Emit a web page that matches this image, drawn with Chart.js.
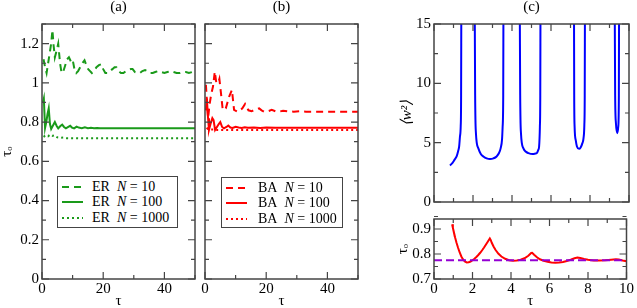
<!DOCTYPE html>
<html>
<head>
<meta charset="utf-8">
<script src="https://cdn.jsdelivr.net/npm/chart.js@4/dist/chart.umd.min.js"></script>
<style>
    body { margin: 0; background: #fff; }
    #stage { position: relative; width: 637px; height: 308px; overflow: hidden; }
    #stage canvas { position: absolute; left: 0; top: 0; }
    .legend {
        position: absolute; box-sizing: border-box; background: #fff;
        border: 1px solid #444; padding: 2px 0 0 4px;
        font-family: "Liberation Serif", "Times New Roman", serif; font-size: 14px; color: #000;
    }
    .legend .row { display: flex; align-items: center; height: 15.5px; white-space: nowrap; }
    .legend svg { flex: none; }
</style>
</head>
<body>
<div id="stage">
    <canvas id="chartA" width="637" height="308"></canvas>
    <canvas id="chartB" width="637" height="308"></canvas>
    <canvas id="chartC1" width="637" height="308"></canvas>
    <canvas id="chartC2" width="637" height="308"></canvas>
</div>
<script>
// Dados: pares [tau, valor]

// (a) redes ER
const er10 = [[0.5,1.12],[1,1.08],[1.5,1.05],[2,1.10],[2.5,1.15],[3,1.20],[3.4,1.27],[3.8,1.19],[4.2,1.13],[4.7,1.16],
    [5.3,1.20],[5.9,1.10],[6.4,1.05],[7,1.06],[7.6,1.09],[8.2,1.12],[8.8,1.13],[9.4,1.11],[10,1.12],[10.6,1.07],
    [11.2,1.05],[11.8,1.06],[12.5,1.08],[13.2,1.10],[13.9,1.115],[14.5,1.09],[15.1,1.07],[15.7,1.06],[16.3,1.05],[17,1.06],
    [17.8,1.08],[18.6,1.09],[19.4,1.095],[20,1.07],[20.7,1.05],[21.4,1.05],[22.2,1.06],[23,1.07],[23.7,1.08],[24.3,1.08],
    [25,1.06],[25.8,1.05],[26.6,1.05],[27.4,1.06],[28.2,1.065],[29,1.07],[29.6,1.07],[30.4,1.055],[31.2,1.05],[32,1.05],
    [32.8,1.06],[33.7,1.065],[34.5,1.06],[35.3,1.05],[36.2,1.05],[37,1.055],[38,1.06],[39,1.055],[40,1.05],[41,1.055],
    [42,1.06],[43,1.055],[44,1.05],[45,1.05],[46,1.055],[47,1.055],[48,1.05],[49,1.055],[50,1.055]];
const er100 = [[0.3,0.90],[0.6,0.92],[1.0,0.77],[1.4,0.80],[1.8,0.84],[2.2,0.87],[2.6,0.79],[3.0,0.765],[3.5,0.78],[4.2,0.80],
    [4.8,0.78],[5.3,0.768],[6,0.78],[6.6,0.787],[7.2,0.775],[7.8,0.768],[8.6,0.776],[9.2,0.781],[9.8,0.772],[10.5,0.768],
    [11.3,0.777],[12,0.772],[13,0.769],[14,0.773],[15,0.769],[16,0.771],[17,0.768],[18,0.77],[19,0.768],[20,0.769],
    [22,0.768],[24,0.769],[26,0.768],[28,0.768],[30,0.769],[33,0.768],[36,0.768],[40,0.768],[44,0.768],[48,0.768],[50,0.768]];
const er1000 = [[0.5,0.725],[1,0.73],[1.5,0.733],[2,0.728],[2.5,0.734],[3,0.736],[3.5,0.73],[4,0.733],[4.5,0.728],[5,0.722],
    [6,0.72],[7,0.721],[8,0.718],[10,0.718],[12,0.717],[15,0.717],[20,0.717],[25,0.717],[30,0.717],[35,0.717],
    [40,0.717],[45,0.717],[50,0.717]];

// (b) redes BA
const ba10 = [[0.3,0.99],[0.7,0.89],[1.0,0.82],[1.5,0.89],[2.0,0.94],[2.6,0.98],[3.2,1.057],[3.7,1.0],[4.3,1.0],[4.7,1.02],
    [5.2,0.95],[5.8,0.862],[6.8,0.87],[7.9,0.93],[8.8,0.964],[9.5,0.862],[10.6,0.853],[11.4,0.86],[12.2,0.87],[13.1,0.892],
    [14.2,0.86],[15.2,0.855],[16.6,0.865],[17.7,0.87],[18.5,0.86],[19.3,0.853],[20.5,0.855],[21.8,0.862],[23,0.855],[24.2,0.853],
    [25.5,0.858],[27,0.855],[29,0.853],[31,0.855],[33,0.853],[36,0.853],[40,0.853],[44,0.853],[48,0.853],[50,0.853]];
const ba100 = [[0.3,0.86],[0.6,0.92],[1.0,0.82],[1.3,0.76],[1.8,0.79],[2.4,0.82],[2.8,0.81],[3.3,0.76],[3.9,0.775],[4.5,0.79],
    [5.0,0.80],[5.6,0.775],[6.2,0.768],[7.0,0.775],[7.6,0.782],[8.3,0.772],[9,0.77],[10,0.776],[11,0.772],[12,0.77],
    [13,0.774],[14,0.771],[16,0.772],[18,0.77],[20,0.772],[23,0.771],[26,0.771],[30,0.771],[35,0.771],[40,0.771],
    [45,0.771],[50,0.771]];
const ba1000 = [[0.5,0.77],[1,0.765],[2,0.762],[3,0.762],[4,0.76],[6,0.76],[10,0.76],[15,0.76],[20,0.76],[30,0.76],
    [40,0.76],[50,0.76]];

// (c) topo: <w^2>, com divergencias (null = fora da escala)
const w2 = [[0.82,3.08],[0.95,3.3],[1.05,3.55],[1.16,3.84],[1.24,4.3],[1.29,4.68],[1.33,5.5],[1.37,6.4],[1.39,9],[1.40,16],
    [1.7,null],
    [2.09,16],[2.11,9],[2.15,5.8],[2.27,4.54],[2.4,4.05],[2.53,3.84],[2.7,3.68],[2.87,3.62],[3.05,3.68],[3.21,3.84],
    [3.34,4.15],[3.42,4.54],[3.49,5.3],[3.52,6.36],[3.55,9],[3.56,16],
    [4.0,null],
    [4.40,16],[4.42,9],[4.46,5.8],[4.58,4.54],[4.7,4.25],[4.84,4.12],[5.06,4.04],[5.2,4.08],[5.27,4.12],[5.35,4.4],
    [5.39,4.68],[5.43,6.36],[5.45,9],[5.46,16],
    [6.3,null],
    [7.18,16],[7.19,9],[7.21,6.36],[7.27,5.2],[7.33,4.68],[7.44,4.48],[7.52,4.6],[7.61,4.96],[7.67,5.4],[7.71,6.5],
    [7.73,9],[7.74,16],
    [8.5,null],
    [9.27,16],[9.29,9],[9.33,6.64],[9.40,5.8],[9.45,6.36],[9.48,9],[9.49,16]];

// (c) baixo: tau_o e valor de referencia
const tauC = [[0.94,0.919],[0.98,0.905],[1.04,0.885],[1.1,0.865],[1.17,0.845],[1.25,0.825],[1.33,0.807],[1.42,0.79],[1.5,0.779],[1.6,0.77],
    [1.7,0.766],[1.8,0.767],[1.9,0.77],[2.0,0.775],[2.1,0.781],[2.2,0.788],[2.3,0.796],[2.4,0.805],[2.5,0.815],[2.6,0.826],
    [2.7,0.838],[2.8,0.85],[2.9,0.862],[2.95,0.855],[3.0,0.845],[3.1,0.829],[3.2,0.816],[3.35,0.801],[3.5,0.79],[3.7,0.781],
    [3.9,0.775],[4.1,0.773],[4.3,0.774],[4.5,0.777],[4.7,0.783],[4.9,0.793],[5.05,0.804],[5.1,0.805],[5.2,0.797],[5.35,0.787],
    [5.5,0.779],[5.7,0.773],[5.9,0.769],[6.1,0.766],[6.3,0.765],[6.5,0.766],[6.7,0.768],[6.9,0.772],[7.1,0.777],[7.3,0.783],
    [7.45,0.786],[7.6,0.784],[7.8,0.78],[8.0,0.777],[8.3,0.774],[8.6,0.774],[8.9,0.775],[9.2,0.777],[9.45,0.779],[9.6,0.778],
    [9.8,0.774],[10.0,0.771]];
const tauRef = [[0,0.775],[10,0.775]];

// Legendas
const netSizes = [10, 100, 1000];
const lineStyles = [[7, 5], [], [2, 3]];

const SERIF = '"Liberation Serif", "Times New Roman", serif';
const GREEN = '#1a9a1a';
const RED = '#ff0000';
const BLUE = '#0000ff';
const VIOLET = '#9400d3';
const FRAME = '#444';

// Tracinhos internos nos quatro lados + moldura
const innerTicks = {
    id: 'innerTicks',
    afterDraw(chart, args, opts) {
        const { ctx, chartArea: a, scales: { x, y } } = chart;
        ctx.save();
        ctx.strokeStyle = FRAME;
        ctx.lineWidth = 1.2;
        ctx.beginPath();
        const walk = (scale, minor, major, fn) => {
            const n = Math.round((scale.max - scale.min) / minor);
            for (let k = 0; k <= n; k++) {
                const v = scale.min + k * minor;
                const isMajor = Math.abs(v / major - Math.round(v / major)) < 1e-6;
                fn(scale.getPixelForValue(v), isMajor ? 7 : 4);
            }
        };
        walk(x, opts.xMinor, opts.xMajor, (px, len) => {
            ctx.moveTo(px, a.bottom); ctx.lineTo(px, a.bottom - len);
            ctx.moveTo(px, a.top); ctx.lineTo(px, a.top + len);
        });
        walk(y, opts.yMinor, opts.yMajor, (py, len) => {
            ctx.moveTo(a.left, py); ctx.lineTo(a.left + len, py);
            ctx.moveTo(a.right, py); ctx.lineTo(a.right - len, py);
        });
        ctx.stroke();
        ctx.lineWidth = 1.5;
        ctx.strokeRect(a.left, a.top, a.width, a.height);
        ctx.restore();
    }
};

function series(points, color, dash, smooth) {
    return {
        data: points.map(p => ({ x: p[0], y: p[1] })),
        borderColor: color,
        borderWidth: 2,
        borderDash: dash,
        pointRadius: 0,
        tension: 0,
        cubicInterpolationMode: smooth ? 'monotone' : 'default',
        spanGaps: false,
        fill: false
    };
}

function makePanel(id, cfg) {
    const tickFont = { family: SERIF, size: 15, lineHeight: 1 };
    return new Chart(document.getElementById(id), {
        type: 'line',
        data: { datasets: cfg.datasets },
        plugins: [innerTicks],
        options: {
            responsive: false,
            devicePixelRatio: 1,
            animation: false,
            events: [],
            layout: { padding: cfg.pad },
            plugins: {
                legend: { display: false },
                tooltip: { enabled: false },
                title: {
                    display: !!cfg.title,
                    text: cfg.title,
                    fullSize: false,
                    color: '#000',
                    font: { family: SERIF, size: 15, weight: 'normal', lineHeight: 1 },
                    padding: { top: 0, bottom: 9 }
                },
                innerTicks: cfg.ticks
            },
            scales: {
                x: {
                    type: 'linear',
                    min: cfg.x[0], max: cfg.x[1],
                    grid: { display: false, drawTicks: false },
                    border: { display: false },
                    ticks: {
                        display: cfg.xLabels,
                        stepSize: cfg.ticks.xMajor,
                        includeBounds: false,
                        autoSkip: false,
                        maxRotation: 0,
                        padding: 3,
                        color: '#000',
                        font: tickFont,
                        callback: v => +v.toFixed(2)
                    },
                    title: {
                        display: cfg.xLabels,
                        text: 'τ',
                        color: '#000',
                        font: { family: SERIF, size: 15, lineHeight: 0.9 },
                        padding: 0
                    },
                    afterFit: s => { s.height = cfg.xHeight; }
                },
                y: {
                    type: 'linear',
                    min: cfg.y[0], max: cfg.y[1],
                    grid: { display: false, drawTicks: false },
                    border: { display: false },
                    ticks: {
                        display: cfg.yLabels,
                        stepSize: cfg.ticks.yMajor,
                        includeBounds: false,
                        autoSkip: false,
                        padding: 3,
                        color: '#000',
                        font: tickFont,
                        callback: v => +v.toFixed(2)
                    },
                    title: {
                        display: !!cfg.yTitle,
                        text: cfg.yTitle,
                        color: '#000',
                        font: { family: SERIF, size: 15, lineHeight: 1, style: cfg.yTitleStyle || 'normal' },
                        padding: 0
                    },
                    afterFit: s => { s.width = cfg.yWidth; }
                }
            }
        }
    });
}

function makeLegend(net, color, box) {
    const el = document.createElement('div');
    el.className = 'legend';
    Object.assign(el.style, {
        left: box.left + 'px', top: box.top + 'px',
        width: box.width + 'px', height: box.height + 'px'
    });
    netSizes.forEach((n, i) => {
        const row = document.createElement('div');
        row.className = 'row';
        row.innerHTML =
            `<svg width="${box.sample}" height="4"><line x1="0" y1="2" x2="${box.sample}" y2="2" stroke="${color}" ` +
            `stroke-width="2" stroke-dasharray="${lineStyles[i].join(' ') || 'none'}"/></svg>` +
            `<span style="margin-left:${box.gap}px">${net}&nbsp; <i>N</i> = ${n}</span>`;
        el.appendChild(row);
    });
    document.getElementById('stage').appendChild(el);
}

// (a)
makePanel('chartA', {
    datasets: [
        series(er10, GREEN, lineStyles[0]),
        series(er100, GREEN, lineStyles[1]),
        series(er1000, GREEN, lineStyles[2])
    ],
    title: '(a)', yTitle: 'τₒ',
    x: [0, 50], y: [0, 1.3],
    ticks: { xMinor: 10, xMajor: 20, yMinor: 0.1, yMajor: 0.2 },
    xLabels: true, yLabels: true,
    pad: { left: 0, right: 442, top: 0, bottom: 0 },
    yWidth: 42, xHeight: 29
});

// (b)
makePanel('chartB', {
    datasets: [
        series(ba10, RED, lineStyles[0]),
        series(ba100, RED, lineStyles[1]),
        series(ba1000, RED, lineStyles[2])
    ],
    title: '(b)',
    x: [0, 50], y: [0, 1.3],
    ticks: { xMinor: 10, xMajor: 20, yMinor: 0.1, yMajor: 0.2 },
    xLabels: true, yLabels: false,
    pad: { left: 205, right: 279, top: 0, bottom: 0 },
    yWidth: 0, xHeight: 29
});

// (c) topo
makePanel('chartC1', {
    datasets: [series(w2, BLUE, [], true)],
    title: '(c)', yTitle: '⟨w²⟩', yTitleStyle: 'italic',
    x: [0, 10], y: [0, 15],
    ticks: { xMinor: 1, xMajor: 2, yMinor: 2.5, yMajor: 5 },
    xLabels: false, yLabels: true,
    pad: { left: 400, right: 8, top: 0, bottom: 106 },
    yWidth: 34, xHeight: 0
});

// (c) baixo
makePanel('chartC2', {
    datasets: [
        series(tauRef, VIOLET, [8, 4]),
        series(tauC, RED, [])
    ],
    yTitle: 'τₒ',
    x: [0, 10], y: [0.7, 0.94],
    ticks: { xMinor: 1, xMajor: 2, yMinor: 0.05, yMajor: 0.1 },
    xLabels: true, yLabels: true,
    pad: { left: 396, right: 8, top: 219, bottom: 0 },
    yWidth: 38, xHeight: 29
});

makeLegend('ER', GREEN, { left: 57, top: 176, width: 121, height: 52, sample: 21, gap: 9 });
makeLegend('BA', RED, { left: 221, top: 177, width: 122, height: 51, sample: 21, gap: 11 });
</script>
</body>
</html>
